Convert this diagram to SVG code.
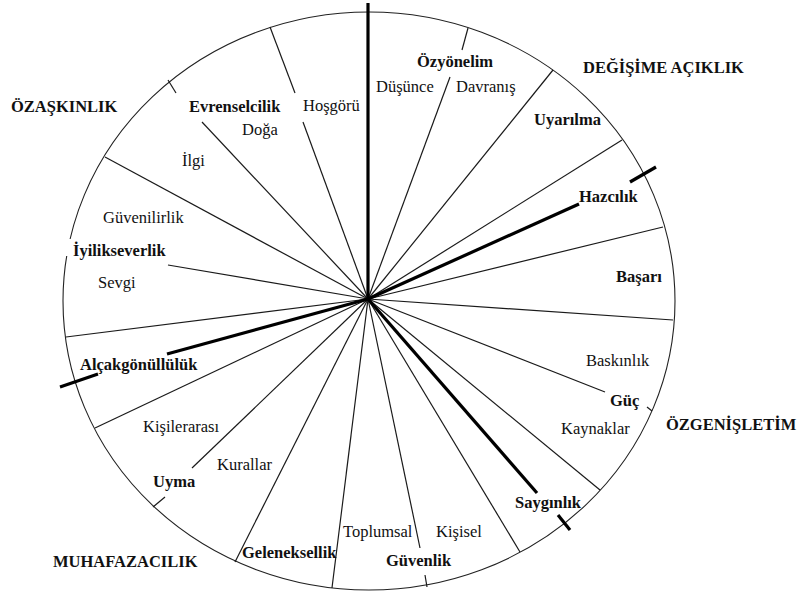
<svg xmlns="http://www.w3.org/2000/svg" width="800" height="595" viewBox="0 0 800 595">
<style>
text{font-family:"Liberation Serif","Times New Roman","DejaVu Serif",serif;font-size:16.5px;fill:#111}
.b{font-weight:bold}
.ln{stroke:#1a1a1a;stroke-width:1.2;fill:none;stroke-linecap:butt}
.th{stroke:#000;stroke-width:3.2;fill:none}
</style>
<rect width="800" height="595" fill="#fff"/>
<g id="outline">
<ellipse cx="369" cy="301" rx="306" ry="289" fill="none" stroke="#222" stroke-width="1.1"/>
<rect x="63" y="239" width="9" height="17" fill="#fff"/>
</g>
<g id="connectors">
<line class="ln" x1="368" y1="299" x2="303" y2="122"/>
<line class="ln" x1="295" y1="93" x2="270" y2="27"/>
<line class="ln" x1="368" y1="299" x2="202" y2="122"/>
<line class="ln" x1="176" y1="93" x2="168" y2="80"/>
<line class="ln" x1="368" y1="299" x2="105" y2="157"/>
<line class="ln" x1="368" y1="299" x2="168" y2="265"/>
<line class="ln" x1="368" y1="299" x2="66" y2="337"/>
<line class="ln" x1="368" y1="299" x2="95" y2="428"/>
<line class="ln" x1="368" y1="299" x2="192" y2="468"/>
<line class="ln" x1="165" y1="497" x2="153" y2="507"/>
<line class="ln" x1="368" y1="299" x2="235" y2="562"/>
<line class="ln" x1="368" y1="299" x2="332" y2="588"/>
<line class="ln" x1="368" y1="299" x2="420" y2="548"/>
<line class="ln" x1="425" y1="575" x2="427" y2="587"/>
<line class="ln" x1="368" y1="299" x2="520" y2="552"/>
<line class="ln" x1="368" y1="299" x2="600" y2="490"/>
<line class="ln" x1="368" y1="299" x2="605" y2="392"/>
<line class="ln" x1="647" y1="407" x2="652" y2="411"/>
<line class="ln" x1="368" y1="299" x2="673" y2="320"/>
<line class="ln" x1="368" y1="299" x2="663" y2="227"/>
<line class="ln" x1="368" y1="299" x2="622" y2="140"/>
<line class="ln" x1="368" y1="299" x2="553" y2="70"/>
<line class="ln" x1="368" y1="299" x2="450" y2="77"/>
<line class="ln" x1="462" y1="50" x2="468" y2="28"/>
<line class="th" x1="368" y1="3" x2="368" y2="299"/>
<line class="th" x1="368" y1="299" x2="579" y2="204"/>
<line class="th" x1="630" y1="182" x2="656" y2="167"/>
<line class="th" x1="368" y1="299" x2="167" y2="354"/>
<line class="th" x1="98" y1="374" x2="60" y2="387"/>
<line class="th" x1="368" y1="299" x2="537" y2="493"/>
<line class="th" x1="558" y1="515" x2="570" y2="530"/>
</g>
<g id="ozaskinlik"><text class="b" x="11" y="112">ÖZAŞKINLIK</text></g>
<g id="degisime"><text class="b" x="583" y="73">DEĞİŞİME AÇIKLIK</text></g>
<g id="ozgenisletim"><text class="b" x="666" y="430">ÖZGENİŞLETİM</text></g>
<g id="muhafazacilik"><text class="b" x="53" y="567">MUHAFAZACILIK</text></g>
<g id="evrenselcilik"><text class="b" x="189" y="112">Evrenselcilik</text></g>
<g id="hosgoru"><text x="303" y="111">Hoşgörü</text></g>
<g id="doga"><text x="242" y="135">Doğa</text></g>
<g id="ilgi"><text x="182" y="166">İlgi</text></g>
<g id="guvenilirlik"><text x="103" y="223">Güvenilirlik</text></g>
<g id="iyilikseverlik"><text class="b" x="73" y="256">İyilikseverlik</text></g>
<g id="sevgi"><text x="98" y="288">Sevgi</text></g>
<g id="alcakgonulluluk"><text class="b" x="80" y="370">Alçakgönüllülük</text></g>
<g id="kisilerarasi"><text x="143" y="432">Kişilerarası</text></g>
<g id="kurallar"><text x="217" y="470">Kurallar</text></g>
<g id="uyma"><text class="b" x="153" y="487">Uyma</text></g>
<g id="geleneksellik"><text class="b" x="242" y="558">Geleneksellik</text></g>
<g id="toplumsal"><text x="343" y="537">Toplumsal</text></g>
<g id="kisisel"><text x="436" y="537">Kişisel</text></g>
<g id="guvenlik"><text class="b" x="386" y="566">Güvenlik</text></g>
<g id="sayginlik"><text class="b" x="515" y="508">Saygınlık</text></g>
<g id="kaynaklar"><text x="561" y="434">Kaynaklar</text></g>
<g id="guc"><text class="b" x="610" y="406">Güç</text></g>
<g id="baskinlik"><text x="586" y="366">Baskınlık</text></g>
<g id="basari"><text class="b" x="616" y="282">Başarı</text></g>
<g id="hazcilik"><text class="b" x="579" y="202">Hazcılık</text></g>
<g id="uyarilma"><text class="b" x="534" y="125">Uyarılma</text></g>
<g id="ozyonelim"><text class="b" x="417" y="67">Özyönelim</text></g>
<g id="dusunce"><text x="376" y="92">Düşünce</text></g>
<g id="davranis"><text x="456" y="92">Davranış</text></g>
</svg>
